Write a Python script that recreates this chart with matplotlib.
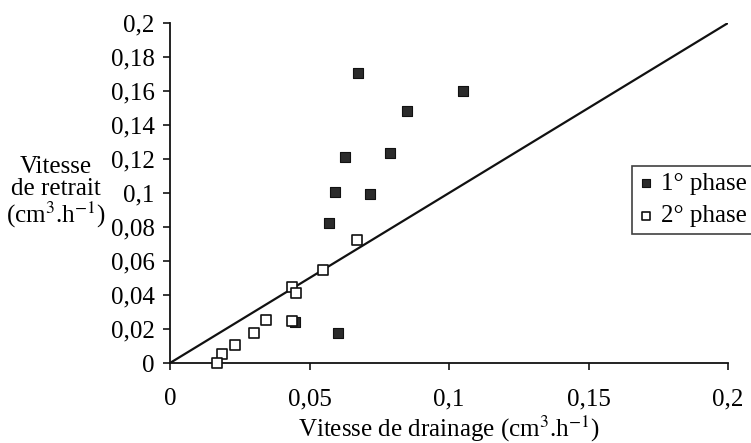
import matplotlib
matplotlib.use("Agg")
import matplotlib.pyplot as plt

plt.rcParams['font.family'] = ['Liberation Serif', 'DejaVu Serif']
plt.rcParams['mathtext.fontset'] = 'stix'

# 1st phase (filled squares)
phase1_x = [0.0675, 0.1051, 0.0851, 0.0627, 0.0789, 0.0591, 0.0717, 0.0570, 0.0603, 0.0448]
phase1_y = [0.1704, 0.1602, 0.1484, 0.1214, 0.1233, 0.1008, 0.0994, 0.0822, 0.0178, 0.0239]

# 2nd phase (open squares)
phase2_x = [0.0669, 0.0550, 0.0438, 0.0450, 0.0438, 0.0344, 0.0302, 0.0233, 0.0185, 0.0167]
phase2_y = [0.0724, 0.0547, 0.0449, 0.0410, 0.0249, 0.0253, 0.0175, 0.0106, 0.0053, 0.0002]

# 1:1 line
line_x = [0, 0.2]
line_y = [0, 0.2]

x_ticks = [0, 0.05, 0.1, 0.15, 0.2]
x_labels = ["0", "0,05", "0,1", "0,15", "0,2"]
y_ticks = [0, 0.02, 0.04, 0.06, 0.08, 0.1, 0.12, 0.14, 0.16, 0.18, 0.2]
y_labels = ["0", "0,02", "0,04", "0,06", "0,08", "0,1", "0,12", "0,14", "0,16", "0,18", "0,2"]

fs = 18

fig = plt.figure(figsize=(7.51, 4.43), dpi=100)
ax = fig.add_axes([170 / 751, 80 / 443, 558 / 751, 340 / 443])

ax.plot(line_x, line_y, color='#111111', linewidth=1.6, zorder=2)
ax.scatter(phase1_x, phase1_y, marker='s', s=50, facecolor='#2b2b2b',
           edgecolor='#111111', linewidth=0.8, clip_on=False, zorder=3, label="1° phase")
ax.scatter(phase2_x, phase2_y, marker='s', s=50, facecolor='white',
           edgecolor='#111111', linewidth=1.2, clip_on=False, zorder=4, label="2° phase")

ax.set_xlim(0, 0.2)
ax.set_ylim(0, 0.2)
ax.set_xticks(x_ticks)
ax.set_xticklabels(x_labels)
ax.set_yticks(y_ticks)
ax.set_yticklabels(y_labels)
ax.tick_params(direction='out', length=5, width=1.1, labelsize=fs, pad=6)
ax.tick_params(axis='x', pad=13)

for side in ['top', 'right']:
    ax.spines[side].set_visible(False)
for side in ['left', 'bottom']:
    ax.spines[side].set_linewidth(1.3)
    ax.spines[side].set_color('#111111')

ax.set_xlabel(r"Vitesse de drainage (cm$^{3}$.h$^{-1}$)", fontsize=fs, labelpad=3)

fig.text(56 / 751, 1 - 193 / 443, "Vitesse\nde retrait\n" + r"(cm$^{3}$.h$^{-1}$)",
         ha='center', va='center', fontsize=fs, linespacing=1.0)

leg = ax.legend(loc='upper left', bbox_to_anchor=(632 / 751, 1 - 166 / 443),
                bbox_transform=fig.transFigure, fontsize=fs, frameon=True,
                fancybox=False, edgecolor='#111111', handlelength=0.6,
                handletextpad=0.3, borderpad=0.25, labelspacing=0.4,
                borderaxespad=0, markerscale=0.8)
leg.get_frame().set_linewidth(1.2)

fig.savefig("out.png", dpi=100)
